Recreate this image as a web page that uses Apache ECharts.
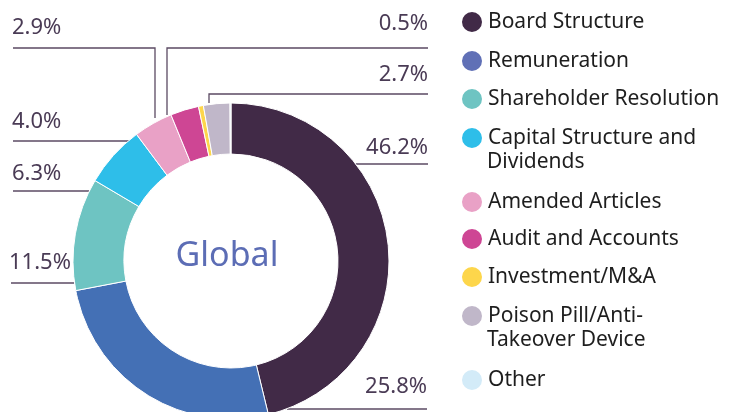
<!DOCTYPE html>
<html>
<head>
<meta charset="utf-8">
<script src="https://cdn.jsdelivr.net/npm/echarts@6/dist/echarts.min.js"></script>
<style>
  html, body { margin: 0; padding: 0; background: #fff; }
  #chart { width: 738px; height: 412px; }
</style>
</head>
<body>
<div id="chart"></div>
<script>
// categories and values (percent)
var categories = ['Board Structure', 'Remuneration', 'Shareholder Resolution',
  'Capital Structure and\nDividends', 'Amended Articles', 'Audit and Accounts',
  'Investment/M&A', 'Poison Pill/Anti-\nTakeover Device', 'Other'];
var values = [46.2, 25.8, 11.5, 6.3, 4.0, 2.9, 0.5, 2.7, 0.1];
var sliceColors = ['#412a47', '#4470b5', '#6ec4c2', '#2ebee9', '#e9a1c6',
  '#ce4694', '#fdd64b', '#c0b7c9', '#d3ebf8'];
var legendColors = ['#412a47', '#6070b6', '#6ec4c2', '#2ebee9', '#e9a1c6',
  '#ce4694', '#fdd64b', '#c0b7c9', '#d3ebf8'];

// where the legend rows sit (icon centre y)
var legendRows = [21, 60, 98, 137, 201, 238, 276, 315, 379];

// label spots, picked to follow the original leaders
var labelSpots = [
  { x: 428, y: 148, align: 'right', line: [[356, 164], [392, 164], [428, 164]] },
  { x: 427, y: 387, align: 'right', line: [[287, 409], [357, 409], [427, 409]] },
  { x: 9, y: 263, align: 'left', line: [[74, 283], [40, 283], [11, 283]] },
  { x: 12, y: 174, align: 'left', line: [[89, 191], [50, 191], [13, 191]] },
  { x: 12, y: 122, align: 'left', line: [[129, 141], [70, 141], [13, 141]] },
  { x: 12, y: 28, align: 'left', line: [[155, 118], [155, 48], [13, 48]] },
  { x: 428, y: 24, align: 'right', line: [[167, 115], [167, 48], [428, 48]] },
  { x: 428, y: 75, align: 'right', line: [[209, 103], [209, 94], [428, 94]] }
];

var font = 'Noto Sans';
var chart = echarts.init(document.getElementById('chart'));

var legends = categories.map(function (name, i) {
  return {
    data: [{ name: name, itemStyle: { color: legendColors[i] } }],
    orient: 'vertical',
    left: 460,
    top: legendRows[i] - 11,
    padding: 0,
    icon: 'circle',
    itemWidth: 22,
    itemHeight: 22,
    selectedMode: false,
    formatter: function (n) { return n.split('\n')[0]; },
    textStyle: { fontFamily: font, fontSize: 21, color: '#1e1e1e' }
  };
});

var graphics = [{
  type: 'text',
  x: 227,
  y: 256,
  style: {
    text: 'Global', align: 'center', verticalAlign: 'middle',
    fontFamily: font, fontSize: 34, fill: '#5c6db5'
  }
}];
categories.forEach(function (name, i) {
  var parts = name.split('\n');
  if (parts.length > 1) {
    graphics.push({
      type: 'text',
      x: 487,
      y: legendRows[i] + 25,
      style: {
        text: parts[1], verticalAlign: 'middle',
        fontFamily: font, fontSize: 21, fill: '#1e1e1e'
      }
    });
  }
});

var option = {
  animation: false,
  legend: legends,
  graphic: graphics,
  series: [{
    type: 'pie',
    center: [231, 261],
    radius: [107, 158],
    startAngle: 90,
    clockwise: true,
    avoidLabelOverlap: false,
    itemStyle: { borderColor: '#fff', borderWidth: 1 },
    label: {
      show: true,
      formatter: function (p) { return p.value.toFixed(1) + '%'; },
      fontFamily: font,
      fontSize: 22,
      color: '#4a3b55'
    },
    labelLine: { show: true, lineStyle: { color: '#5b4a63', width: 1.3 } },
    labelLayout: function (p) {
      var s = labelSpots[p.dataIndex];
      if (!s) return {};
      return {
        x: s.x, y: s.y, align: s.align, verticalAlign: 'middle',
        labelLinePoints: s.line
      };
    },
    data: categories.map(function (name, i) {
      var item = { name: name, value: values[i], itemStyle: { color: sliceColors[i] } };
      if (i === categories.length - 1) {
        item.label = { show: false };
        item.labelLine = { show: false };
      }
      return item;
    })
  }]
};

chart.setOption(option);
</script>
</body>
</html>
